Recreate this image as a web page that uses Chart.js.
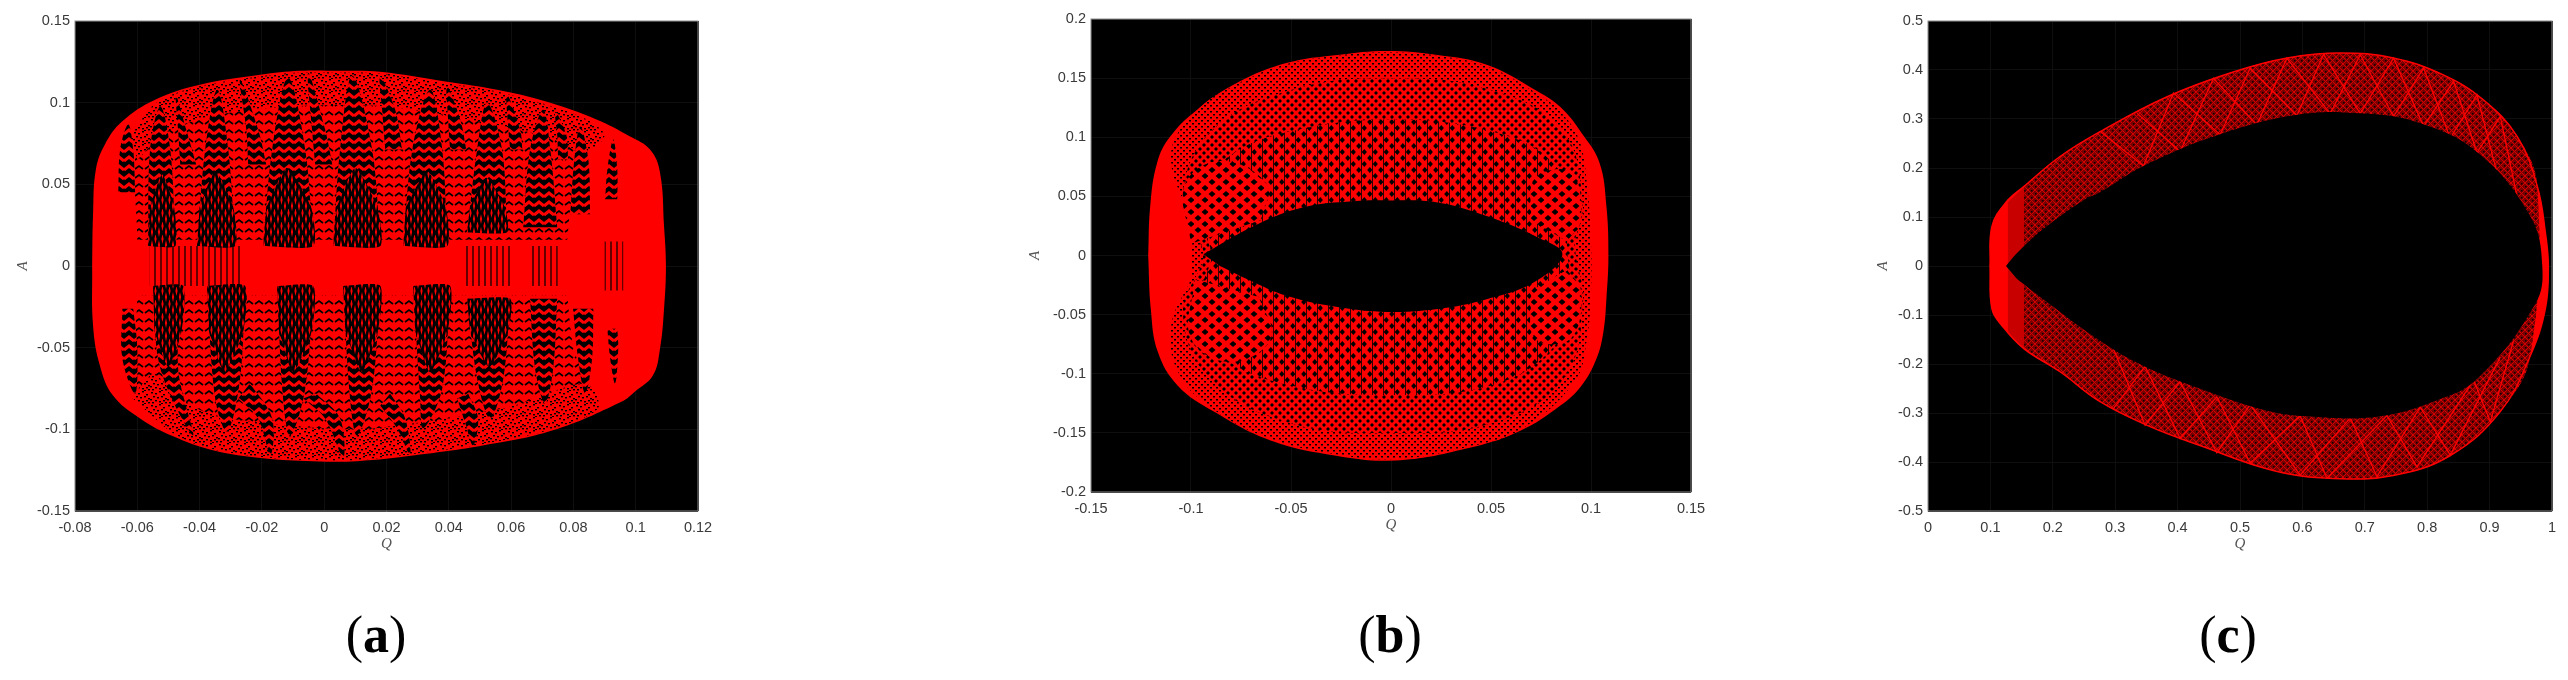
<!DOCTYPE html>
<html>
<head>
<meta charset="utf-8">
<script src="https://cdn.jsdelivr.net/npm/chart.js@4"></script>
<style>
  html, body { margin: 0; background: #fff; }
  body { position: relative; width: 2568px; height: 680px; overflow: hidden; }
  canvas { position: absolute; filter: blur(0.6px); }
  .lbl { position: absolute; top: 605px; width: 120px; text-align: center; font: 52px/60px "Liberation Serif", serif; color: #000; }
</style>
</head>
<body>
<canvas id="chartA"></canvas>
<canvas id="chartB"></canvas>
<canvas id="chartC"></canvas>
<div class="lbl" style="left:316px">(<b>a</b>)</div>
<div class="lbl" style="left:1330px">(<b>b</b>)</div>
<div class="lbl" style="left:2168px">(<b>c</b>)</div>
<script>
// tick labels
const ticksAx = [-0.08, -0.06, -0.04, -0.02, 0, 0.02, 0.04, 0.06, 0.08, 0.1, 0.12];
const ticksAy = [-0.15, -0.1, -0.05, 0, 0.05, 0.1, 0.15];
const ticksBx = [-0.15, -0.1, -0.05, 0, 0.05, 0.1, 0.15];
const ticksBy = [-0.2, -0.15, -0.1, -0.05, 0, 0.05, 0.1, 0.15, 0.2];
const ticksCx = [0, 0.1, 0.2, 0.3, 0.4, 0.5, 0.6, 0.7, 0.8, 0.9, 1];
const ticksCy = [-0.5, -0.4, -0.3, -0.2, -0.1, 0, 0.1, 0.2, 0.3, 0.4, 0.5];

// panel a, outline of the orbit (Q, A)
const outerA = [-0.0745,0, -0.0742,0.0317, -0.0733,0.0591, -0.0704,0.0744, -0.0649,0.0884, -0.0543,0.1018, -0.0399,0.111, -0.0206,0.1171, -0.0078,0.1195, 0.0051,0.1195, 0.0179,0.1189, 0.0394,0.1128, 0.0555,0.1079, 0.0715,0.1006, 0.0876,0.0896, 0.0982,0.0793, 0.1046,0.0713, 0.1078,0.0573, 0.1091,0.0244, 0.1097,0, 0.1091,-0.0262, 0.1078,-0.0506, 0.1055,-0.0671, 0.0998,-0.0768, 0.0956,-0.0829, 0.0734,-0.1006, 0.0513,-0.1098, 0.0291,-0.1159, 0.0105,-0.1195, -0.0036,-0.1195, -0.0196,-0.1177, -0.0357,-0.1128, -0.0485,-0.1043, -0.0591,-0.0933, -0.0678,-0.0793, -0.072,-0.061, -0.0742,-0.0366, -0.0745,0];
const rimUpperA = [-0.062,0.08, -0.054,0.1, -0.04,0.11, -0.021,0.116, -0.008,0.1185, 0.005,0.1185, 0.018,0.118, 0.039,0.112, 0.055,0.107, 0.071,0.099, 0.084,0.09, 0.09,0.08, 0.084,0.07, 0.07,0.08, 0.04,0.092, 0.018,0.098, -0.008,0.098, -0.03,0.094, -0.05,0.083, -0.06,0.065];
const rimLowerA = [-0.062,-0.08, -0.048,-0.103, -0.036,-0.112, -0.02,-0.117, -0.004,-0.119, 0.01,-0.119, 0.029,-0.115, 0.051,-0.109, 0.073,-0.1, 0.088,-0.087, 0.084,-0.072, 0.06,-0.086, 0.03,-0.096, 0.01,-0.1, -0.02,-0.096, -0.04,-0.088, -0.055,-0.065];
// lightly chequered part of the body, between the dark gaps
const bodyUpperA = [-0.06,0.016, -0.06,0.075, -0.05,0.095, -0.03,0.108, -0.008,0.113, 0.018,0.113, 0.04,0.106, 0.07,0.094, 0.084,0.08, 0.08,0.05, 0.078,0.016];
const bodyLowerA = [-0.06,-0.018, -0.06,-0.075, -0.048,-0.097, -0.03,-0.108, -0.004,-0.113, 0.018,-0.113, 0.05,-0.103, 0.075,-0.09, 0.084,-0.076, 0.08,-0.05, 0.078,-0.018];
// dark gaps between the windings, above and below the middle strip
const gapsUpperA = [
  [-0.0661,0.0451, -0.0655,0.0713, -0.0629,0.0866, -0.0613,0.0713, -0.0607,0.0451],
  [-0.0565,0.0122, -0.0559,0.0713, -0.0526,0.0976, -0.0494,0.0713, -0.0478,0.0122],
  [-0.0462,0.0622, -0.0469,0.0835, -0.0475,0.1037, -0.0443,0.0835, -0.0411,0.0622],
  [-0.0408,0.0122, -0.0382,0.0713, -0.0343,0.1079, -0.0308,0.0713, -0.0286,0.0122],
  [-0.0244,0.0622, -0.025,0.0835, -0.027,0.114, -0.0212,0.0835, -0.0186,0.0622],
  [-0.0196,0.0122, -0.0167,0.0713, -0.0116,0.1152, -0.0061,0.0713, -0.0035,0.0122],
  [-0.0029,0.0622, -0.0039,0.0835, -0.0051,0.1183, 0.0003,0.0835, 0.0026,0.0622],
  [0.0029,0.0122, 0.0051,0.0713, 0.009,0.1165, 0.0154,0.0713, 0.018,0.0122],
  [0.0196,0.0713, 0.0186,0.0957, 0.018,0.1159, 0.0228,0.0957, 0.025,0.0713],
  [0.0254,0.0122, 0.0283,0.0713, 0.034,0.1079, 0.0379,0.0713, 0.0395,0.0122],
  [0.0404,0.0713, 0.0398,0.0896, 0.0395,0.1098, 0.0437,0.0896, 0.0456,0.0713],
  [0.0459,0.0207, 0.0491,0.0713, 0.0523,0.1, 0.0571,0.0713, 0.0587,0.0207],
  [0.0597,0.0713, 0.059,0.0866, 0.0587,0.1049, 0.0629,0.0835, 0.0636,0.0713],
  [0.0639,0.0238, 0.0661,0.0713, 0.0703,0.0957, 0.0726,0.0713, 0.0748,0.0238],
  [0.0751,0.0652, 0.0748,0.0805, 0.0742,0.0945, 0.0777,0.0805, 0.0783,0.0652],
  [0.079,0.0317, 0.0803,0.0652, 0.0822,0.0854, 0.0848,0.0652, 0.0854,0.0317],
  [0.0902,0.0409, 0.0909,0.0591, 0.0928,0.0774, 0.0941,0.0591, 0.0941,0.0409]
];
const gapsLowerA = [
  [-0.0648,-0.0262, -0.0648,-0.0567, -0.0607,-0.078, -0.06,-0.0506, -0.0613,-0.0262],
  [-0.0549,-0.0122, -0.0526,-0.0628, -0.0421,-0.1037, -0.0469,-0.0628, -0.0453,-0.0122],
  [-0.0376,-0.0122, -0.035,-0.0811, -0.0311,-0.1012, -0.027,-0.0689, -0.0254,-0.0122],
  [-0.0276,-0.0811, -0.0212,-0.0933, -0.0173,-0.1159, -0.0167,-0.0933, -0.0238,-0.072],
  [-0.0151,-0.0122, -0.0132,-0.0811, -0.0109,-0.1037, -0.0061,-0.075, -0.0035,-0.0122],
  [-0.0067,-0.0811, 0.0003,-0.0933, 0.0061,-0.1177, 0.0051,-0.0933, -0.0026,-0.078],
  [0.0061,-0.0122, 0.0083,-0.0811, 0.0106,-0.1037, 0.0154,-0.075, 0.018,-0.0122],
  [0.018,-0.0854, 0.0234,-0.0994, 0.0276,-0.1159, 0.026,-0.0933, 0.0212,-0.078],
  [0.0286,-0.0122, 0.0308,-0.0811, 0.0318,-0.0994, 0.0379,-0.075, 0.0404,-0.0122],
  [0.0427,-0.0811, 0.0453,-0.0963, 0.0478,-0.1098, 0.0494,-0.0933, 0.0462,-0.078],
  [0.0459,-0.0201, 0.0491,-0.0689, 0.0533,-0.0933, 0.0575,-0.0689, 0.0597,-0.0201],
  [0.0661,-0.0201, 0.0677,-0.0628, 0.0709,-0.0841, 0.0735,-0.0628, 0.0748,-0.0201],
  [0.0799,-0.0262, 0.0815,-0.0567, 0.0838,-0.078, 0.086,-0.0567, 0.0864,-0.0262],
  [0.0909,-0.0384, 0.0918,-0.0567, 0.0934,-0.072, 0.0944,-0.0506, 0.0941,-0.0384]
];
// darkest part of the main gaps, next to the middle strip
const coresUpperA = [
  [-0.0565,0.0122, -0.0478,0.0122, -0.0482,0.036, -0.052,0.056, -0.056,0.036],
  [-0.0408,0.0122, -0.0286,0.0122, -0.0292,0.036, -0.035,0.058, -0.04,0.036],
  [-0.0196,0.0122, -0.0035,0.0122, -0.0042,0.036, -0.012,0.06, -0.0185,0.036],
  [0.0029,0.0122, 0.018,0.0122, 0.017,0.036, 0.01,0.06, 0.004,0.036],
  [0.0254,0.0122, 0.0395,0.0122, 0.039,0.036, 0.033,0.058, 0.0262,0.036],
  [0.0459,0.0207, 0.0587,0.0207, 0.058,0.036, 0.052,0.054, 0.0468,0.036]
];
const coresLowerA = [
  [-0.0549,-0.0122, -0.0453,-0.0122, -0.0458,-0.04, -0.05,-0.062, -0.0545,-0.04],
  [-0.0376,-0.0122, -0.0254,-0.0122, -0.026,-0.04, -0.032,-0.065, -0.037,-0.04],
  [-0.0151,-0.0122, -0.0035,-0.0122, -0.004,-0.04, -0.01,-0.065, -0.0145,-0.04],
  [0.0061,-0.0122, 0.018,-0.0122, 0.0172,-0.04, 0.012,-0.065, 0.0068,-0.04],
  [0.0286,-0.0122, 0.0404,-0.0122, 0.0396,-0.04, 0.034,-0.065, 0.0292,-0.04],
  [0.0459,-0.0201, 0.0597,-0.0201, 0.059,-0.04, 0.053,-0.062, 0.0468,-0.04]
];
// thin vertical gaps along A = 0
const stripsA = [
  [-0.056,0.0122, -0.026,0.0122, -0.026,-0.0122, -0.056,-0.0122],
  [0.045,0.0122, 0.06,0.0122, 0.06,-0.0122, 0.045,-0.0122],
  [0.066,0.0122, 0.075,0.0122, 0.075,-0.0122, 0.066,-0.0122],
  [0.09,0.015, 0.096,0.015, 0.096,-0.015, 0.09,-0.015]
];

// panel b
const outerB = [-0.1214,0, -0.1204,0.0416, -0.1169,0.0786, -0.1104,0.1006, -0.0969,0.1233, -0.0769,0.146, -0.0519,0.1629, -0.0269,0.1696, -0.0019,0.173, 0.0232,0.1696, 0.0482,0.1612, 0.0732,0.139, 0.0847,0.1255, 0.0952,0.1039, 0.1042,0.0786, 0.1077,0.0416, 0.1087,0, 0.1077,-0.0368, 0.1062,-0.0646, 0.1027,-0.0873, 0.0952,-0.1101, 0.0847,-0.1269, 0.0647,-0.1481, 0.0377,-0.1632, 0.0022,-0.1733, -0.0282,-0.1691, -0.0602,-0.1565, -0.0886,-0.132, -0.1066,-0.1101, -0.1166,-0.0815, -0.1201,-0.0452, -0.1214,0];
const holeB = [-0.0938,0.001, -0.0688,0.0247, -0.0438,0.0407, -0.0188,0.0458, -0.0018,0.0466, 0.0232,0.0449, 0.0482,0.0331, 0.0732,0.0154, 0.0857,0.001, 0.0717,-0.0225, 0.0482,-0.0368, 0.0232,-0.0453, -0.0018,-0.0477, -0.0268,-0.0436, -0.0518,-0.0343, -0.0718,-0.02, -0.0853,-0.009];
const meshB = [-0.1,0.03, -0.11,0.085, -0.098,0.121, -0.077,0.145, -0.052,0.162, -0.027,0.169, -0.002,0.172, 0.023,0.169, 0.048,0.16, 0.073,0.137, 0.085,0.121, 0.094,0.098, 0.098,0.06, 0.1,0.01, 0.1,-0.03, 0.098,-0.07, 0.092,-0.106, 0.065,-0.147, 0.038,-0.162, 0.002,-0.172, -0.028,-0.168, -0.06,-0.155, -0.088,-0.131, -0.106,-0.1, -0.11,-0.06, -0.1,-0.02];
const mediumB = [-0.094,0.005, -0.104,0.05, -0.09,0.105, -0.05,0.14, 0,0.15, 0.05,0.14, 0.086,0.105, 0.096,0.04, 0.092,0.01, 0.096,-0.04, 0.086,-0.105, 0.05,-0.142, 0,-0.15, -0.05,-0.142, -0.09,-0.105, -0.104,-0.05, -0.094,-0.005];
const coarseB = [-0.09,0.005, -0.098,0.05, -0.08,0.085, -0.05,0.105, 0,0.115, 0.05,0.105, 0.08,0.08, 0.09,0.04, 0.088,0.01, 0.09,-0.04, 0.08,-0.08, 0.05,-0.11, 0,-0.118, -0.05,-0.11, -0.085,-0.085, -0.098,-0.05, -0.09,-0.005];
const blobsB = [
  [-0.1,0.01, -0.103,0.06, -0.085,0.08, -0.062,0.06, -0.065,0.03],
  [-0.098,-0.02, -0.1,-0.07, -0.08,-0.09, -0.06,-0.07, -0.066,-0.035],
  [0.07,0.03, 0.072,0.065, 0.09,0.07, 0.095,0.03, 0.088,0.012],
  [0.07,-0.03, 0.072,-0.07, 0.09,-0.07, 0.095,-0.03, 0.088,-0.012]
];

// panel c
const outerC = [0.0994,0, 0.1026,0.0815, 0.125,0.13, 0.154,0.1625, 0.2116,0.2235, 0.2758,0.2742, 0.3832,0.3455, 0.489,0.396, 0.5756,0.4247, 0.6606,0.4348, 0.7456,0.4247, 0.8257,0.3901, 0.8899,0.3393, 0.9444,0.2641, 0.9765,0.1625, 0.9893,0.0689, 0.9941,0, 0.9893,-0.0877, 0.9652,-0.1833, 0.9171,-0.2972, 0.837,-0.3867, 0.7456,-0.4274, 0.6494,-0.4335, 0.5532,-0.4172, 0.4361,-0.3663, 0.3559,-0.3277, 0.2758,-0.2769, 0.2116,-0.2158, 0.154,-0.169, 0.1203,-0.1243, 0.1026,-0.0877, 0.0994,0];
const holeC = [0.125,0, 0.1459,0.0305, 0.1908,0.0815, 0.2517,0.1364, 0.2758,0.1507, 0.3447,0.2037, 0.4682,0.2688, 0.5964,0.3095, 0.6926,0.3115, 0.784,0.2932, 0.8802,0.2322, 0.9652,0.1017, 0.9844,0, 0.9732,-0.0775, 0.8802,-0.2301, 0.8097,-0.2769, 0.7199,-0.3074, 0.6173,-0.3074, 0.5435,-0.2952, 0.4361,-0.2505, 0.3447,-0.2037, 0.2758,-0.1528, 0.178,-0.0613, 0.1427,-0.0267];
// narrow part where the solid left end turns into the weave
const fadeC = [0.128,0.13, 0.154,0.1625, 0.154,-0.169, 0.128,-0.135];
// bright strands crossing the band
const upperStrandC1 = [0.2758,0.275, 0.3453,0.204, 0.3934,0.353, 0.4682,0.268, 0.5163,0.404, 0.5912,0.307, 0.6339,0.432, 0.6927,0.311, 0.7461,0.424, 0.7942,0.285, 0.8423,0.377, 0.8797,0.231, 0.9171,0.305, 0.9438,0.143];
const upperStrandC2 = [0.3346,0.312, 0.4041,0.234, 0.4575,0.383, 0.527,0.288, 0.5751,0.424, 0.6446,0.311, 0.6927,0.431, 0.7461,0.305, 0.7942,0.404, 0.837,0.261, 0.8797,0.349, 0.9118,0.19];
const lowerStrandC1 = [0.2972,-0.291, 0.3479,-0.205, 0.4041,-0.352, 0.4629,-0.267, 0.5163,-0.402, 0.5965,-0.306, 0.6393,-0.433, 0.7355,-0.305, 0.7836,-0.41, 0.8744,-0.233, 0.9011,-0.318, 0.9385,-0.152];
const lowerStrandC2 = [0.2972,-0.169, 0.3479,-0.325, 0.4041,-0.236, 0.4629,-0.381, 0.5163,-0.283, 0.5965,-0.427, 0.6767,-0.31, 0.7195,-0.43, 0.7889,-0.288, 0.837,-0.386, 0.9171,-0.186];

function toPoints(flat) {
  const out = [];
  for (let i = 0; i < flat.length; i += 2) out.push({ x: flat[i], y: flat[i + 1] });
  return out;
}

// small repeating tiles for the woven look of the trajectories
function tile(w, h, bg, paint) {
  const c = document.createElement("canvas");
  c.width = w; c.height = h;
  const g = c.getContext("2d");
  if (bg) { g.fillStyle = bg; g.fillRect(0, 0, w, h); }
  paint(g);
  return g.createPattern(c, "repeat");
}
function diamond(g, cx, cy, rx, ry) {
  g.beginPath();
  g.moveTo(cx - rx, cy); g.lineTo(cx, cy - ry); g.lineTo(cx + rx, cy); g.lineTo(cx, cy + ry);
  g.closePath(); g.fill();
}
const chevrons = tile(10, 9, "#000", g => {
  g.strokeStyle = "#f00"; g.lineWidth = 3;
  g.beginPath(); g.moveTo(0, 7); g.lineTo(5, 3); g.lineTo(10, 7); g.stroke();
});
const lightChevrons = tile(10, 9, "#f00", g => {
  g.strokeStyle = "#000"; g.lineWidth = 1.6;
  g.beginPath(); g.moveTo(1, 6); g.lineTo(5, 3); g.lineTo(9, 6); g.stroke();
});
const coreFill = tile(7, 13, "#000", g => {
  g.fillStyle = "#f00";
  diamond(g, 1.5, 4, 1.1, 5); diamond(g, 5, 10, 1.1, 5); diamond(g, 5, -3, 1.1, 5);
});
const specks = tile(17, 13, "#f00", g => {
  g.fillStyle = "#000";
  [[1,1],[5,2],[9,0],[13,3],[3,5],[7,6],[11,5],[15,7],[0,8],[5,9],[9,10],[13,9],[2,11],[11,12],[15,11]].forEach(p => g.fillRect(p[0], p[1], 2, 1.4));
});
const stripes = tile(6, 2, null, g => { g.fillStyle = "rgba(0,0,0,0.6)"; g.fillRect(2, 0, 2, 2); });
const fineB = tile(6, 6, "#f00", g => {
  g.fillStyle = "#000";
  g.fillRect(1, 1, 2, 1.5); g.fillRect(4, 4, 2, 1.5);
});
const mediumFill = tile(8, 8, "#f00", g => {
  g.fillStyle = "#000";
  diamond(g, 2, 2, 2, 2); diamond(g, 6, 6, 2, 2);
});
const coarseFill = tile(11, 12, "#f00", g => {
  g.fillStyle = "#000";
  diamond(g, 2.8, 3, 2.6, 3); diamond(g, 8.3, 9, 2.6, 3);
  g.fillRect(5.2, 0, 0.8, 12);
});
const blobFill = tile(14, 12, "#f00", g => {
  g.fillStyle = "#000";
  diamond(g, 4, 3, 3.5, 3); diamond(g, 11, 9, 3.5, 3);
});
const weaveC = tile(7, 7, "#7a0000", g => {
  g.strokeStyle = "#d40000"; g.lineWidth = 1;
  g.beginPath(); g.moveTo(0, 0); g.lineTo(7, 7); g.moveTo(7, 0); g.lineTo(0, 7); g.stroke();
  g.fillStyle = "#100000"; g.fillRect(3, 0, 1.5, 1.5); g.fillRect(0, 3, 1.5, 1.5);
});

function shape(flat, fill, opts) {
  return Object.assign({
    data: toPoints(flat), showLine: true, fill: "shape", backgroundColor: fill,
    borderWidth: 0, borderColor: fill, pointRadius: 0, tension: 0
  }, opts || {});
}
function strand(flat) {
  return {
    data: toPoints(flat), showLine: true, fill: false, borderColor: "#f00",
    borderWidth: 1.3, pointRadius: 0, tension: 0
  };
}

const framePlugin = {
  id: "frame",
  beforeDraw(chart) {
    const a = chart.chartArea, ctx = chart.ctx;
    ctx.save(); ctx.fillStyle = "#000"; ctx.fillRect(a.left, a.top, a.width, a.height); ctx.restore();
  },
  afterDraw(chart) {
    const a = chart.chartArea, ctx = chart.ctx;
    ctx.save(); ctx.strokeStyle = "#8a8a8a"; ctx.lineWidth = 1;
    ctx.strokeRect(a.left, a.top, a.width, a.height); ctx.restore();
  }
};

function makePanel(id, box, ranges, layers) {
  const canvas = document.getElementById(id);
  const w = box.right - box.left + box.yw + 30, h = box.bottom - box.top + 60;
  canvas.width = w; canvas.height = h;
  canvas.style.left = (box.left - box.yw) + "px";
  canvas.style.top = (box.top - 20) + "px";
  canvas.style.width = w + "px"; canvas.style.height = h + "px";
  // layers come bottom first, Chart.js draws the highest order first
  layers.forEach((d, i) => { d.order = layers.length - i; });
  const tickFont = { family: "'Liberation Sans', sans-serif", size: 14.5 };
  const titleFont = { family: "'Liberation Serif', serif", size: 15, style: "italic" };
  new Chart(canvas, {
    type: "scatter",
    data: { datasets: layers },
    plugins: [framePlugin],
    options: {
      responsive: false, animation: false, devicePixelRatio: 1,
      layout: { padding: { top: 20, right: 30, left: 0, bottom: 0 } },
      plugins: { legend: { display: false }, tooltip: { enabled: false } },
      scales: {
        x: {
          type: "linear", min: ranges.x[0], max: ranges.x[ranges.x.length - 1],
          afterBuildTicks: s => { s.ticks = ranges.x.map(value => ({ value })); },
          afterFit: s => { s.height = 42; },
          grid: { color: "#0f0f0f", drawTicks: false },
          border: { display: false },
          ticks: { padding: 8, color: "#3a3a3a", font: tickFont, autoSkip: false, maxRotation: 0, callback: v => String(v) },
          title: { display: true, text: "Q", color: "#555", font: titleFont, padding: 0 }
        },
        y: {
          type: "linear", min: ranges.y[0], max: ranges.y[ranges.y.length - 1],
          afterBuildTicks: s => { s.ticks = ranges.y.map(value => ({ value })); },
          afterFit: s => { s.width = box.yw; },
          grid: { color: "#0f0f0f", drawTicks: false },
          border: { display: false },
          ticks: { padding: 5, color: "#3a3a3a", font: tickFont, autoSkip: false, callback: v => String(v) },
          title: { display: true, text: "A", color: "#555", font: titleFont, padding: 0 }
        }
      }
    }
  });
}

makePanel("chartA", { left: 75, right: 698, top: 21, bottom: 513, yw: 61 },
  { x: ticksAx, y: ticksAy },
  [
    shape(outerA, "#f00", { tension: 0.4 }),
    shape(bodyUpperA, lightChevrons, { tension: 0.3 }),
    shape(bodyLowerA, lightChevrons, { tension: 0.3 }),
    shape(rimUpperA, specks, { tension: 0.3 }),
    shape(rimLowerA, specks, { tension: 0.3 }),
    ...gapsUpperA.map(g => shape(g, chevrons, { tension: 0.35 })),
    ...gapsLowerA.map(g => shape(g, chevrons, { tension: 0.35 })),
    ...coresUpperA.map(g => shape(g, coreFill, { tension: 0.2 })),
    ...coresLowerA.map(g => shape(g, coreFill, { tension: 0.2 })),
    ...stripsA.map(g => shape(g, stripes))
  ]);

makePanel("chartB", { left: 1091, right: 1691, top: 19, bottom: 494, yw: 65 },
  { x: ticksBx, y: ticksBy },
  [
    shape(outerB, "#f00", { tension: 0.4 }),
    shape(meshB, fineB, { tension: 0.4 }),
    shape(mediumB, mediumFill, { tension: 0.4 }),
    shape(coarseB, coarseFill, { tension: 0.4 }),
    ...blobsB.map(g => shape(g, blobFill, { tension: 0.4 })),
    shape(holeB, "#000", { tension: 0.4 })
  ]);

// the woven part of the band leaves out both narrow solid ends
const meshC = outerC.slice(6, 30).concat(outerC.slice(36, 58));
makePanel("chartC", { left: 1928, right: 2552, top: 21, bottom: 513, yw: 54 },
  { x: ticksCx, y: ticksCy },
  [
    shape(outerC, "#f00", { tension: 0.4 }),
    shape(fadeC, "rgba(120,0,0,0.4)"),
    shape(meshC, weaveC, { tension: 0.4 }),
    strand(upperStrandC1),
    strand(upperStrandC2),
    strand(lowerStrandC1),
    strand(lowerStrandC2),
    shape(holeC, "#000", { tension: 0.4 }),
    { data: toPoints(outerC), showLine: true, fill: false, borderColor: "#f00", borderWidth: 1.5, pointRadius: 0, tension: 0.4 }
  ]);
</script>
</body>
</html>
